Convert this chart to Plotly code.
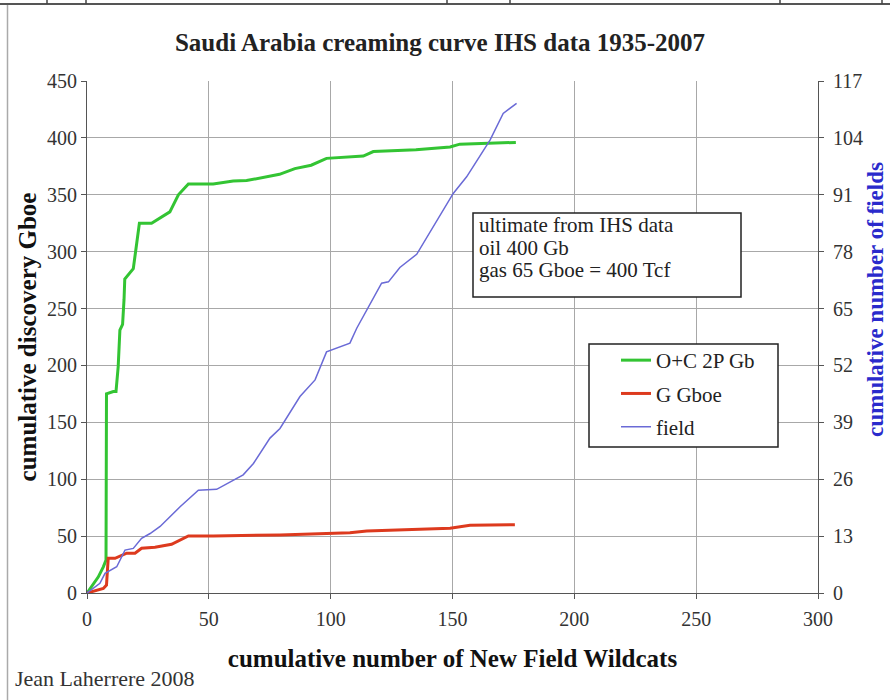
import plotly.graph_objects as go

# Cumulative new-field wildcats (x) and cumulative discoveries
wildcats_oil = [0, 4.6, 6.7, 7.8, 8.0, 10.8, 11.9, 12.8, 13.5, 14.6, 15.2, 15.5, 19, 21.5,
                26.5, 34, 37.5, 41.6, 51.8, 60, 65.5, 72, 79, 85.3, 92, 98.3, 113.4,
                117.5, 135, 149, 153, 176]
oil_cond_2p = [0, 14, 23, 29, 175, 177, 177, 199, 231, 236, 258, 276, 285, 325,
               325, 335, 350, 359.5, 359.5, 362, 362.5, 365, 368, 373, 376, 382, 384,
               388, 389.5, 392, 394.5, 396]

wildcats_gas = [0, 6.7, 8.0, 8.7, 11.5, 16.3, 19.7, 22.4, 27.9, 34.7, 41.6, 51.8, 79.2,
                87.4, 107.9, 114.8, 149, 157.2, 175.6]
gas_gboe = [0, 4, 7, 30.5, 30.5, 35, 35, 39.3, 40.2, 42.8, 50.1, 50.1, 51,
            51.5, 53, 54.5, 56.9, 59.5, 60]

wildcats_field = [0, 5.3, 7.4, 12.2, 15.6, 19, 22.4, 25.9, 30, 38.2, 45.7, 53.2, 64.1,
                  68.3, 75.1, 79.2, 87.4, 93.6, 98.3, 105.9, 107.9, 110.7, 120.9, 123.7,
                  128.4, 135.3, 150.3, 155.8, 165.4, 170.8, 176.3]
fields = [0, 2.2, 4.5, 6, 9.8, 10.2, 12.5, 13.6, 15.2, 19.7, 23.5, 23.7, 27,
          29.6, 35.4, 37.6, 44.9, 48.7, 55.1, 56.7, 57.1, 60.5, 70.8, 71.1,
          74.4, 77.4, 91.3, 95.1, 103.5, 109.6, 111.9]

x_ticks = [0, 50, 100, 150, 200, 250, 300]
y_ticks = [0, 50, 100, 150, 200, 250, 300, 350, 400, 450]
y2_ticks = [0, 13, 26, 39, 52, 65, 78, 91, 104, 117]

note_lines = ["ultimate from IHS data", "oil 400 Gb", "gas 65 Gboe = 400 Tcf"]

SERIF = "Liberation Serif, Times New Roman, serif"
W, H = 890, 700
L, R, T, B = 87, 72, 81, 107
PW, PH = W - L - R, H - T - B


def px(x):
    return (x - L) / PW


def py(y):
    return (H - B - y) / PH


fig = go.Figure()
fig.add_trace(go.Scatter(x=wildcats_oil, y=oil_cond_2p, mode="lines", name="O+C 2P Gb",
                         line=dict(color="#33c433", width=3), legendgroup="a"))
fig.add_trace(go.Scatter(x=wildcats_gas, y=gas_gboe, mode="lines", name="G Gboe",
                         line=dict(color="#dd3a1e", width=3), legendgroup="b"))
fig.add_trace(go.Scatter(x=wildcats_field, y=fields, mode="lines", name="field", yaxis="y2",
                         line=dict(color="#6a6ad6", width=1.5), legendgroup="c"))

shapes = [
    # legend frame
    dict(type="rect", xref="paper", yref="paper", x0=px(589), x1=px(778), y0=py(344), y1=py(447),
         fillcolor="white", line=dict(color="#222", width=1.5), layer="above"),
    # note frame
    dict(type="rect", xref="paper", yref="paper", x0=px(473), x1=px(741), y0=py(213), y1=py(297),
         fillcolor="white", line=dict(color="#222", width=1.5), layer="above"),
    # page frame
    dict(type="line", xref="paper", yref="paper", x0=px(0), x1=px(890), y0=py(4), y1=py(4),
         line=dict(color="#555", width=2)),
    dict(type="line", xref="paper", yref="paper", x0=px(7.5), x1=px(7.5), y0=py(5), y1=py(700),
         line=dict(color="#aaa", width=1.5)),
]
for mark in [47, 86, 447, 510, 780, 882]:
    shapes.append(dict(type="line", xref="paper", yref="paper", x0=px(mark), x1=px(mark),
                       y0=py(0), y1=py(4), line=dict(color="#444", width=1.5)))

annotations = []
for i, line in enumerate(note_lines):
    annotations.append(dict(text=line, xref="paper", yref="paper", x=px(477), y=py(225 + 22.5 * i),
                            xanchor="left", yanchor="middle", showarrow=False,
                            font=dict(family=SERIF, size=21, color="#222")))
annotations.append(dict(text="Jean Laherrere 2008", xref="paper", yref="paper", x=px(13), y=py(678),
                        xanchor="left", yanchor="middle", showarrow=False,
                        font=dict(family=SERIF, size=22, color="#333")))
annotations.append(dict(text="<b>cumulative number of fields</b>", xref="paper", yref="paper",
                        x=px(875), y=py(300), xanchor="center", yanchor="middle", textangle=-90,
                        showarrow=False, font=dict(family=SERIF, size=23, color="#2a2acc")))

axis_font = dict(family=SERIF, size=20, color="#333")

fig.update_layout(
    width=W, height=H,
    margin=dict(l=L, r=R, t=T, b=B),
    paper_bgcolor="white", plot_bgcolor="white",
    font=dict(family=SERIF, color="#222"),
    title=dict(text="<b>Saudi Arabia creaming curve IHS data 1935-2007</b>",
               font=dict(family=SERIF, size=25, color="#222"),
               x=px(440), xref="paper", xanchor="center", y=1 - 42 / H, yanchor="middle"),
    xaxis=dict(range=[0, 300], tickvals=x_ticks, showgrid=True, gridcolor="#a8a8a8", gridwidth=1,
               zeroline=False, showline=True, linecolor="#555", linewidth=1,
               ticks="outside", ticklen=5, tickcolor="#555", tickfont=axis_font,
               ticklabelstandoff=3,
               title=dict(text="<b>cumulative number of New Field Wildcats</b>",
                          font=dict(family=SERIF, size=25, color="#111"), standoff=20)),
    yaxis=dict(range=[0, 450], tickvals=y_ticks, showgrid=True, gridcolor="#a8a8a8", gridwidth=1,
               zeroline=False, showline=True, linecolor="#555", linewidth=1,
               ticks="outside", ticklen=5, tickcolor="#555", tickfont=axis_font,
               title=dict(text="<b>cumulative discovery Gboe</b>",
                          font=dict(family=SERIF, size=25, color="#111"), standoff=3)),
    yaxis2=dict(range=[0, 117], tickvals=y2_ticks, overlaying="y", side="right",
                showgrid=False, zeroline=False, showline=True, linecolor="#555", linewidth=1,
                ticks="outside", ticklen=5, tickcolor="#555", tickfont=axis_font,
                ticklabelstandoff=5),
    legend=dict(x=px(616), y=py(340), xanchor="left", yanchor="top",
                bgcolor="rgba(0,0,0,0)", borderwidth=0, tracegroupgap=3,
                font=dict(family=SERIF, size=21, color="#222")),
    shapes=shapes,
    annotations=annotations,
)

fig.write_html("out.html")
